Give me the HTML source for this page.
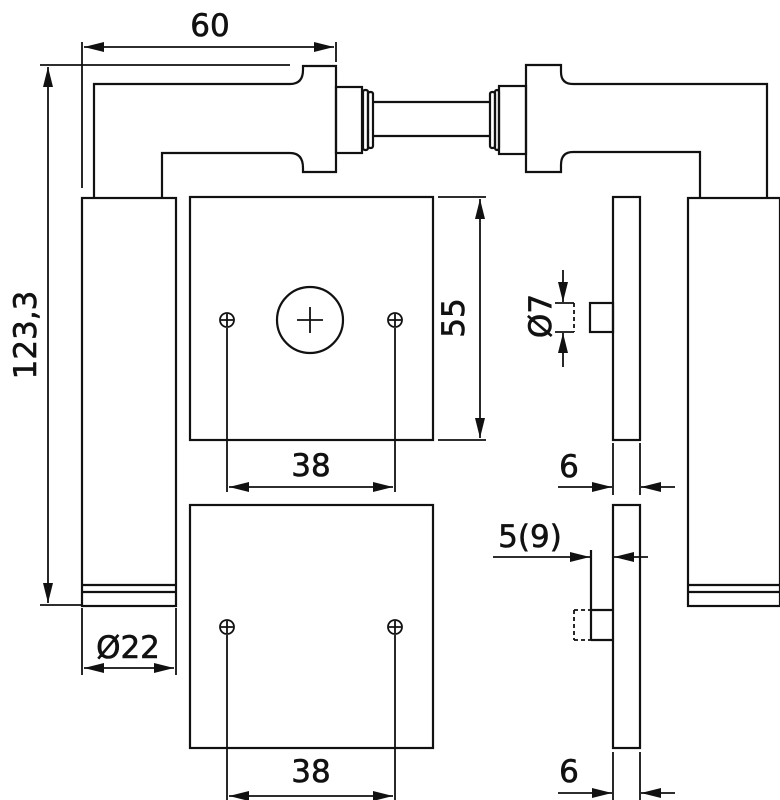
<!DOCTYPE html>
<html><head><meta charset="utf-8"><style>
html,body{margin:0;padding:0;background:#fff;}
svg{display:block}
text{font-family:"DejaVu Sans","Liberation Sans",sans-serif;font-size:31px;fill:#111;stroke:#111;stroke-width:0.6px;}
</style></head><body>
<svg width="780" height="800" viewBox="0 0 780 800" xmlns="http://www.w3.org/2000/svg">
<defs>
<marker id="a" viewBox="0 0 20 10" refX="20" refY="5" markerWidth="20" markerHeight="10" markerUnits="userSpaceOnUse" orient="auto-start-reverse"><path d="M0,0 L20,5 L0,10 Z" fill="#111"/></marker>
</defs>
<g fill="none" stroke="#111" stroke-width="2.2">
<!-- left lever -->
<path d="M94,198 V84 H290 Q303,84 303,70 V66 H336 V172 H303 V168 Q303,153 290,153 H162 V198"/>
<rect x="336" y="87" width="26" height="66"/>
<rect x="363" y="90" width="5" height="60" rx="2"/>
<rect x="368" y="92" width="5" height="56" rx="2"/>
<path d="M373,102 H490 M373,136 H490"/>
<rect x="82" y="198" width="94" height="408"/>
<path d="M82,585 H176 M82,592 H176"/>
<!-- right lever -->
<rect x="490" y="92" width="5" height="56" rx="2"/>
<rect x="495" y="90" width="4" height="60" rx="2"/>
<rect x="499" y="86" width="27" height="68"/>
<path d="M700,198 V152 H573 Q561,152 561,165 V172 H526 V65 H561 V72 Q561,84 573,84 H767 V198"/>
<rect x="688" y="198" width="92" height="408"/>
<path d="M688,585 H780 M688,592 H780"/>
<!-- rosettes -->
<rect x="190" y="197" width="243" height="243"/>
<rect x="190" y="505" width="243" height="243"/>
<circle cx="310" cy="320" r="33"/>
<path d="M297,320 H323 M310,307 V333" stroke-width="1.8"/>
<g stroke-width="1.8">
<circle cx="227" cy="320" r="7"/><path d="M221,320 H233 M227,314 V326"/>
<circle cx="395" cy="320" r="7"/><path d="M389,320 H401 M395,314 V326"/>
<circle cx="227" cy="627" r="7"/><path d="M221,627 H233 M227,621 V633"/>
<circle cx="395" cy="627" r="7"/><path d="M389,627 H401 M395,621 V633"/>
</g>
<!-- side plates -->
<rect x="613" y="197" width="27" height="243"/>
<rect x="613" y="505" width="27" height="243"/>
<rect x="590" y="303" width="23" height="29"/>
<path d="M591,550 V640 M591,610 H613 M591,640 H613"/>
<path d="M574,303 V332 M574,610 V640 M574,610 H591 M574,640 H591" stroke-dasharray="4,3" stroke-width="1.8"/>
</g>
<!-- dimensions -->
<g fill="none" stroke="#111" stroke-width="1.8">
<path d="M82,42 V188 M336,42 V62"/>
<path d="M84,47 H334" marker-start="url(#a)" marker-end="url(#a)"/>
<path d="M40,65 H290 M40,605 H82"/>
<path d="M48,67 V603" marker-start="url(#a)" marker-end="url(#a)"/>
<path d="M438,197 H486 M438,440 H486"/>
<path d="M480,199 V438" marker-start="url(#a)" marker-end="url(#a)"/>
<path d="M227,328 V492 M395,328 V492"/>
<path d="M229,487 H393" marker-start="url(#a)" marker-end="url(#a)"/>
<path d="M227,635 V800 M395,635 V800"/>
<path d="M229,796 H393" marker-start="url(#a)" marker-end="url(#a)"/>
<path d="M82,608 V675 M176,608 V675"/>
<path d="M84,668 H174" marker-start="url(#a)" marker-end="url(#a)"/>
<path d="M555,303 H574 M555,332 H574"/>
<path d="M563,270 V302" marker-end="url(#a)"/>
<path d="M563,367 V333" marker-end="url(#a)"/>
<path d="M613,443 V495 M640,443 V495"/>
<path d="M558,487 H612" marker-end="url(#a)"/>
<path d="M675,487 H641" marker-end="url(#a)"/>
<path d="M493,557 H590" marker-end="url(#a)"/>
<path d="M648,557 H614" marker-end="url(#a)"/>
<path d="M613,752 V800 M640,752 V800"/>
<path d="M558,793 H612" marker-end="url(#a)"/>
<path d="M675,793 H641" marker-end="url(#a)"/>
</g>
<g>
<text x="210" y="36" text-anchor="middle">60</text>
<text transform="translate(36,335) rotate(-90)" text-anchor="middle">123,3</text>
<text transform="translate(464,318) rotate(-90)" text-anchor="middle">55</text>
<text x="311" y="476" text-anchor="middle">38</text>
<text x="311" y="782" text-anchor="middle">38</text>
<text x="128" y="658" text-anchor="middle">Ø22</text>
<text transform="translate(551,316) rotate(-90)" text-anchor="middle">Ø7</text>
<text x="569" y="477" text-anchor="middle">6</text>
<text x="569" y="782" text-anchor="middle">6</text>
<text x="530" y="547" text-anchor="middle">5(9)</text>
</g>
</svg>
</body></html>
